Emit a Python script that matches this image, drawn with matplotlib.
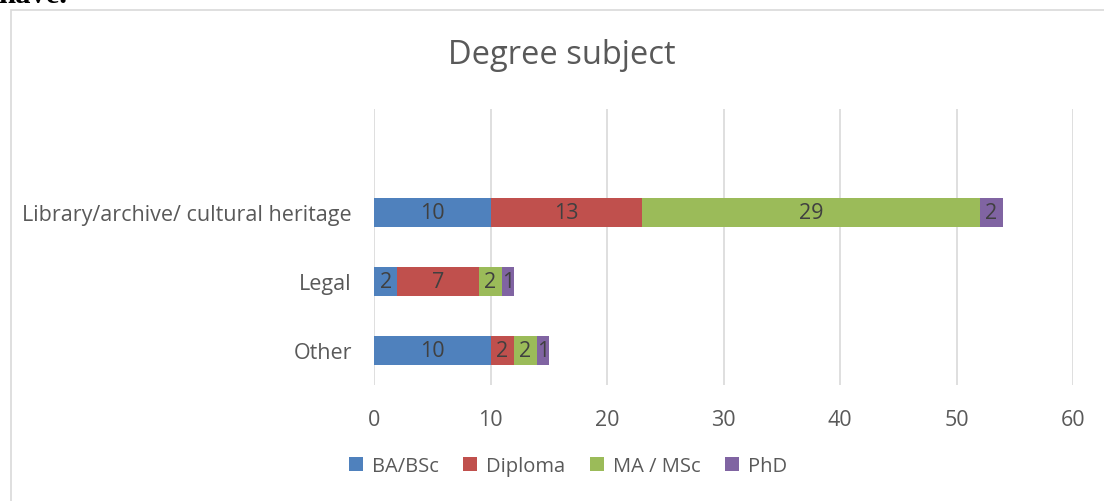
import matplotlib
matplotlib.use("Agg")
import matplotlib.pyplot as plt
from matplotlib.patches import Rectangle

categories = ["Other", "Legal", "Library/archive/ cultural heritage"]
series_names = ["BA/BSc", "Diploma", "MA / MSc", "PhD"]
ba_bsc = [10, 2, 10]
diploma = [2, 7, 13]
ma_msc = [2, 2, 29]
phd = [1, 1, 2]
x_ticks = [0, 10, 20, 30, 40, 50, 60]

colors = ["#4F81BD", "#C0504D", "#9BBB59", "#8064A2"]
series = [ba_bsc, diploma, ma_msc, phd]

FONT = "Open Sans"
plt.rcParams["font.family"] = [FONT, "DejaVu Sans"]

W, H = 1104, 502
fig = plt.figure(figsize=(W / 100, H / 100), dpi=100)

# chart border
fig.patches.append(Rectangle((10.5 / W, 0 - 0.02), 1.1, (H - 11) / H + 0.02,
                             transform=fig.transFigure, fill=False,
                             edgecolor="#d9d9d9", linewidth=1.2))

# cut-off heading from the surrounding document
fig.text(-0.002, 1 - 3 / H, "have.", family="Liberation Serif", weight="bold",
         fontsize=22, va="baseline", ha="left", color="black")

ax = fig.add_axes([374 / W, 1 - 386 / H, (1073 - 374) / W, (386 - 110) / H])
ypos = list(range(len(categories)))
left = [0] * len(categories)
for name, vals, c in zip(series_names, series, colors):
    bars = ax.barh(ypos, vals, left=left, height=0.41, color=c, label=name, zorder=3)
    for b, v, l in zip(bars, vals, left):
        ax.text(l + v / 2, b.get_y() + b.get_height() / 2, str(v), ha="center",
                va="center", fontsize=15.5, color="#404040", zorder=4)
    left = [a + b for a, b in zip(left, vals)]

ax.set_xlim(0, 60)
ax.set_ylim(-0.5, 3.5)
ax.set_xticks(x_ticks)
ax.set_yticks(ypos)
ax.set_yticklabels(categories)
ax.tick_params(axis="both", length=0, labelsize=15.5, labelcolor="#595959")
ax.tick_params(axis="x", pad=17)
ax.tick_params(axis="y", pad=16)
ax.grid(axis="x", color="#d9d9d9", linewidth=1.2, zorder=0)
for s in ax.spines.values():
    s.set_visible(False)

fig.text(562 / W, 1 - 56 / H, "Degree subject", ha="center", va="center",
         fontsize=23.5, color="#595959")

fig.legend(loc="center", bbox_to_anchor=(568 / W, 1 - 467 / H), ncol=4,
           frameon=False, fontsize=14.5, handlelength=0.7, handleheight=0.7,
           handletextpad=0.45, columnspacing=1.2, labelcolor="#595959")

fig.savefig("out.png", dpi=100)
